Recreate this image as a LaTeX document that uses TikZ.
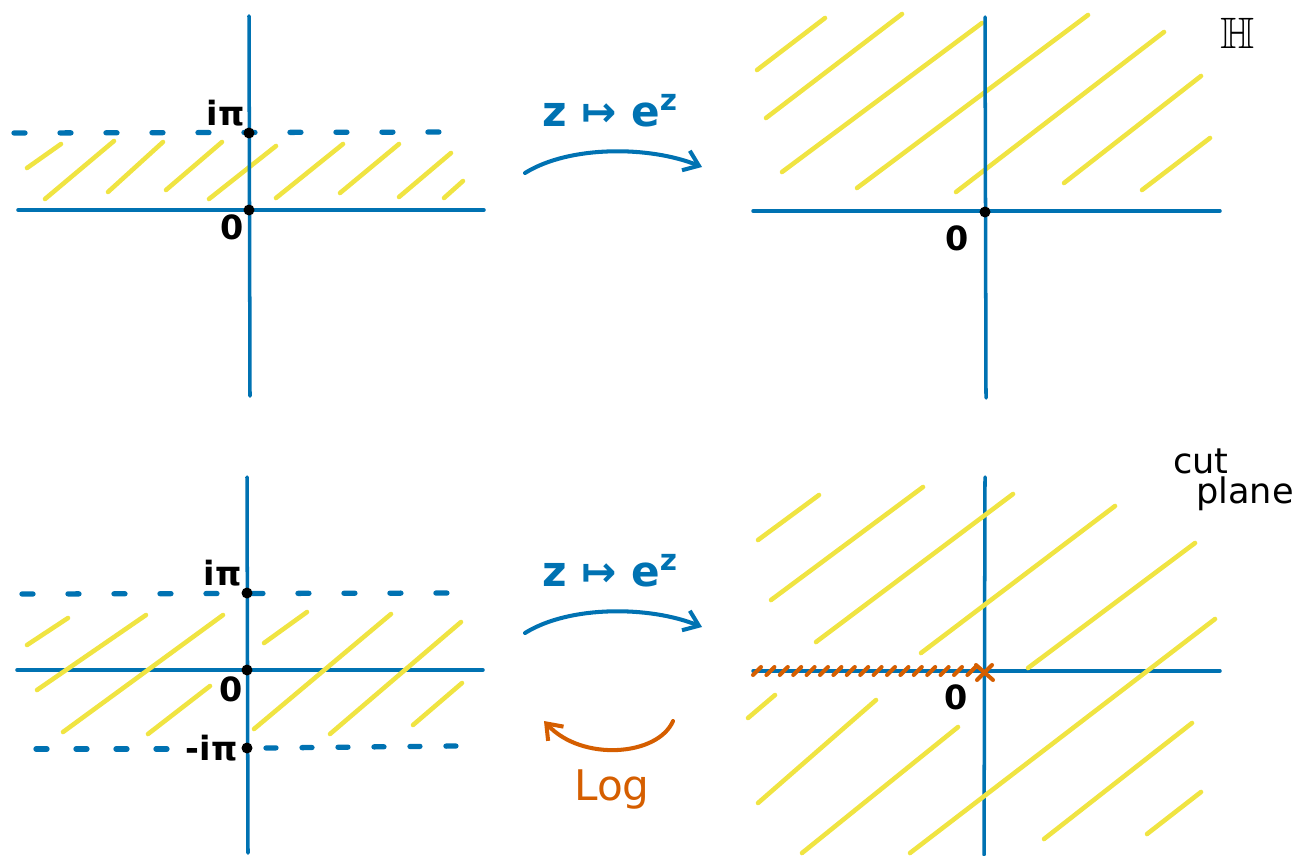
\documentclass[tikz,border=0pt]{standalone}
\usepackage{fontspec}
\usepackage{amssymb}
\setmainfont{DejaVu Sans}
\usetikzlibrary{arrows.meta}
\definecolor{axblue}{RGB}{0,114,178}
\definecolor{hyellow}{RGB}{240,228,66}
\definecolor{cutorange}{RGB}{213,94,0}
\tikzset{
  axisline/.style={draw=axblue,line width=2pt,line cap=round},
  dashline/.style={draw=axblue,line width=3pt,line cap=round,dash pattern=on 0.22cm off 0.70cm},
  dashlineb/.style={draw=axblue,line width=3pt,line cap=round,dash pattern=on 0.22cm off 0.58cm},
  dashlinec/.style={draw=axblue,line width=3pt,line cap=round,dash pattern=on 0.2cm off 0.52cm},
  hatch/.style={draw=hyellow,line width=2.6pt,line cap=round},
  pt/.style={circle,fill=black,inner sep=0pt,minimum size=0.22cm},
  lbl/.style={font=\fontsize{19}{21}\selectfont\bfseries,text=black,inner sep=0pt},
  maptext/.style={font=\fontsize{24}{26}\selectfont\bfseries,text=axblue,inner sep=0pt},
  maparrow/.style={draw=axblue,line width=2.3pt,line cap=round,-{Straight Barb[length=0.28cm,width=0.42cm]}},
  logarrow/.style={draw=cutorange,line width=2.3pt,line cap=round,-{Straight Barb[length=0.28cm,width=0.42cm]}},
  cuttick/.style={draw=cutorange,line width=2.3pt,line cap=round},
  note/.style={font=\fontsize{20}{22}\selectfont,text=black,inner sep=0pt}
}
\begin{document}
\begin{tikzpicture}[x=0.02cm,y=-0.02cm]
\useasboundingbox (0,0) rectangle (1300,855);

% ---------------- top-left: strip ----------------
\foreach \a/\b/\c/\d in {27/168/61/144, 45/199/114/141, 108/192/163/142, 166/190/222/142,
  209/199/276/146, 276/198/343/144, 340/193/399/144, 399/197/451/153, 444/198/463/181}
  \draw[hatch] (\a,\b) -- (\c,\d);
\coordinate (tlL) at (18,210);
\coordinate (tlR) at (484,210);
\coordinate (tlT) at (249,16);
\coordinate (tlB) at (250,396);
\coordinate (tlDL) at (14,133);
\coordinate (tlDR) at (455,132);
\draw[axisline] (tlL) -- (tlR);
\draw[axisline] (tlT) -- (tlB);
\draw[dashline] (tlDL) -- (tlDR);
\node[pt] (tlpi) at (249,133) {};
\node[pt] (tlO) at (249,210) {};
\node[lbl,anchor=east] (tlpilbl) at (245,113) {iπ};
\node[lbl] (tlOlbl) at (232,227) {0};

% ---------------- top arrow ----------------
\node[maptext] (topmap) at (610,111) {z ↦ e\textsuperscript{z}};
\coordinate (taS) at (525,173);
\coordinate (taE) at (702,167);
\draw[maparrow] (taS) .. controls (570,145) and (650,146) .. (taE);

% ---------------- top-right: upper half plane ----------------
\foreach \a/\b/\c/\d in {757/70/825/18, 766/118/902/14, 782/172/982/23, 857/188/1088/15,
  956/192/1164/32, 1064/183/1201/76, 1142/190/1210/138}
  \draw[hatch] (\a,\b) -- (\c,\d);
\coordinate (trL) at (753,211);
\coordinate (trR) at (1220,211);
\coordinate (trT) at (985,17);
\coordinate (trB) at (986,398);
\draw[axisline] (trL) -- (trR);
\draw[axisline] (trT) -- (trB);
\node[pt] (trO) at (985,212) {};
\node[lbl] (trOlbl) at (957,238) {0};
\node[font=\fontsize{25}{27}\selectfont,text=black,inner sep=0pt] (hlbl) at (1238,33) {$\mathbb{H}$};

% ---------------- bottom-left: strip ----------------
\coordinate (blL) at (17,670);
\coordinate (blR) at (483,670);
\coordinate (blT) at (247,477);
\coordinate (blB) at (248,853);
\coordinate (blU1) at (22,594);
\coordinate (blU2) at (455,593);
\coordinate (blD1) at (36,749);
\coordinate (blD2) at (172,749);
\coordinate (blD3) at (266,748);
\coordinate (blD4) at (456,746);
\draw[axisline] (blL) -- (blR);
\draw[axisline] (blT) -- (blB);
\draw[dashline] (blU1) -- (blU2);
\draw[dashlineb] (blD1) -- (blD2);
\draw[dashlinec] (blD3) -- (blD4);
\foreach \a/\b/\c/\d in {27/645/68/618, 37/690/146/615, 63/732/223/615, 148/734/210/686,
  264/643/307/612, 254/729/391/614, 330/734/461/622, 413/725/462/683}
  \draw[hatch] (\a,\b) -- (\c,\d);
\node[pt] (blpi) at (247,593) {};
\node[pt] (blO) at (247,670) {};
\node[pt] (blmpi) at (247,748) {};
\node[lbl,anchor=east] (blpilbl) at (242,573) {iπ};
\node[lbl] (blOlbl) at (231,689) {0};
\node[lbl,anchor=east] (blmpilbl) at (238,748) {-iπ};

% ---------------- bottom arrows ----------------
\node[maptext] (botmap) at (610,571) {z ↦ e\textsuperscript{z}};
\coordinate (baS) at (525,633);
\coordinate (baE) at (702,627);
\draw[maparrow] (baS) .. controls (570,605) and (650,606) .. (baE);
\coordinate (laS) at (673,721);
\coordinate (laE) at (544,721);
\draw[logarrow] (laS) .. controls (658,756) and (582,762) .. (laE);
\node[font=\fontsize{24}{26}\selectfont,text=cutorange,inner sep=0pt] (loglbl) at (612,790) {Log};

% ---------------- bottom-right: cut plane ----------------
\coordinate (brL) at (753,671);
\coordinate (brR) at (1220,671);
\coordinate (brT) at (985,477);
\coordinate (brB) at (984,855);
\draw[axisline] (brL) -- (brR);
\draw[axisline] (brT) -- (brB);
\foreach \a/\b/\c/\d in {758/540/819/495, 771/600/923/487, 816/642/1013/494, 921/653/1115/506,
  1028/668/1195/543, 910/853/1215/619, 748/718/775/695, 758/803/876/700, 802/853/958/727,
  1044/839/1192/723, 1147/834/1201/792}
  \draw[hatch] (\a,\b) -- (\c,\d);
\foreach \k in {0,...,16}
  \draw[cuttick] ({757+13.4*\k-4},675) -- ({757+13.4*\k+4},667);
\coordinate (cx1) at (976,665);
\coordinate (cx2) at (993,680);
\coordinate (cx3) at (977,680);
\coordinate (cx4) at (992,665);
\draw[cuttick] (cx1) -- (cx2);
\draw[cuttick] (cx3) -- (cx4);
\node[lbl] (brOlbl) at (956,697) {0};
\node[note,anchor=west] (cutlbl) at (1173,461) {cut};
\node[note,anchor=west] (planelbl) at (1196,494) {plane};
\end{tikzpicture}
\end{document}
